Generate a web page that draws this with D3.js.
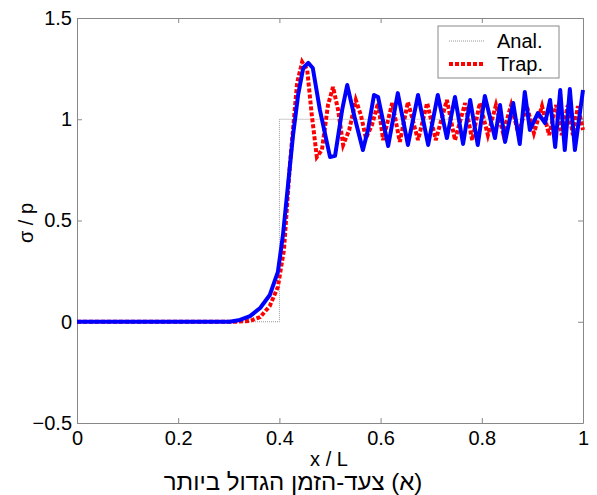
<!DOCTYPE html>
<html>
<head>
<meta charset="utf-8">
<script src="https://cdn.jsdelivr.net/npm/d3@7"></script>
<style>
    body { margin: 0; background: #fff; }
    .axis path, .axis line { stroke: #888; }
    .axis text { font-family: "Liberation Sans", Arial, sans-serif; font-size: 20px; fill: #000; }
</style>
</head>
<body>
<script>
//analytic step solution
var analX = [0, 0.4, 0.4, 1];
var analY = [0, 0, 1, 1];

//trapezoidal rule (red dashed)
var trapX = [0, 0.316, 0.342, 0.362, 0.381, 0.397, 0.409, 0.421, 0.435, 0.445, 0.455, 0.464, 0.474, 0.484, 0.496, 0.506,
    0.516, 0.526, 0.538, 0.551, 0.561, 0.571, 0.583, 0.595, 0.605, 0.623, 0.638, 0.654, 0.674, 0.692, 0.709, 0.731,
    0.747, 0.767, 0.781, 0.796, 0.812, 0.828, 0.842, 0.858, 0.872, 0.889, 0.903, 0.919, 0.933, 0.947, 0.958, 0.970,
    0.980, 0.990, 1.0];
var trapY = [0, 0, 0.004, 0.023, 0.078, 0.172, 0.355, 0.784, 1.179, 1.283, 1.243, 1.021, 0.814, 0.848, 1.07, 1.159,
    1.046, 0.873, 0.947, 1.095, 1.021, 0.907, 0.972, 1.08, 0.897, 1.08, 0.888, 1.085, 0.897, 1.08, 0.897, 1.095,
    0.897, 1.08, 0.897, 1.08, 0.922, 1.07, 0.932, 1.07, 0.932, 1.065, 0.932, 1.065, 0.922, 1.07, 0.922, 1.07,
    0.922, 1.065, 0.947];

//second scheme (blue solid)
var blueX = [0, 0.302, 0.322, 0.342, 0.362, 0.381, 0.397, 0.407, 0.417, 0.427, 0.437, 0.447, 0.457, 0.466, 0.480,
    0.500, 0.510, 0.524, 0.534, 0.549, 0.565, 0.575, 0.587, 0.595, 0.615, 0.634, 0.654, 0.674, 0.694, 0.713, 0.731,
    0.747, 0.763, 0.777, 0.792, 0.806, 0.826, 0.836, 0.846, 0.862, 0.875, 0.885, 0.895, 0.911, 0.925, 0.935, 0.945,
    0.955, 0.964, 0.974, 0.984, 1.0];
var blueY = [0, 0, 0.009, 0.028, 0.068, 0.132, 0.246, 0.428, 0.675, 0.922, 1.12, 1.253, 1.278, 1.253, 1.046,
    0.814, 0.819, 1.046, 1.169, 1.006, 0.848, 0.947, 1.12, 1.11, 0.868, 1.129, 0.873, 1.12, 0.873, 1.12, 0.907,
    1.11, 0.878, 1.095, 0.873, 1.115, 0.907, 1.07, 0.888, 1.08, 0.878, 1.135, 0.947, 1.031, 0.981, 1.095, 0.863,
    1.144, 0.848, 1.149, 0.848, 1.144];

var xTicks = [0, 0.2, 0.4, 0.6, 0.8, 1];
var yTicks = [-0.5, 0, 0.5, 1, 1.5];
var legendNames = ["Anal.", "Trap."];

var width = 597,
    height = 495;
var margin = {left: 77, right: 14, top: 18, bottom: 72};
var font = "Liberation Sans, Arial, sans-serif";

var svg = d3.select("body")
    .append("svg")
    .attr("width", width)
    .attr("height", height);

var x = d3.scaleLinear().domain([0, 1]).range([margin.left, width - margin.right]);
var y = d3.scaleLinear().domain([-0.5, 1.5]).range([height - margin.bottom, margin.top]);

function fmt(d) { return d3.format("")(d); }

//axes with ticks pointing inwards
svg.append("g").attr("class", "axis")
    .attr("transform", "translate(0," + y(-0.5) + ")")
    .call(d3.axisBottom(x).tickValues(xTicks).tickFormat(fmt).tickSizeInner(-5).tickSizeOuter(0).tickPadding(8));
svg.append("g").attr("class", "axis")
    .attr("transform", "translate(0," + y(1.5) + ")")
    .call(d3.axisTop(x).tickValues(xTicks).tickFormat("").tickSizeInner(-5).tickSizeOuter(0));
svg.append("g").attr("class", "axis")
    .attr("transform", "translate(" + x(0) + ",0)")
    .call(d3.axisLeft(y).tickValues(yTicks).tickFormat(fmt).tickSizeInner(-5).tickSizeOuter(0).tickPadding(5));
svg.append("g").attr("class", "axis")
    .attr("transform", "translate(" + x(1) + ",0)")
    .call(d3.axisRight(y).tickValues(yTicks).tickFormat("").tickSizeInner(-5).tickSizeOuter(0));

var line = d3.line()
    .x(function(d){ return x(d[0]); })
    .y(function(d){ return y(d[1]); });

svg.append("path")
    .datum(d3.zip(analX, analY))
    .attr("d", line)
    .attr("fill", "none")
    .attr("stroke", "#999")
    .attr("stroke-width", 1)
    .attr("stroke-dasharray", "1,1");

svg.append("path")
    .datum(d3.zip(trapX, trapY))
    .attr("d", line)
    .attr("fill", "none")
    .attr("stroke", "#f00")
    .attr("stroke-width", 4)
    .attr("stroke-dasharray", "4,2");

svg.append("path")
    .datum(d3.zip(blueX, blueY))
    .attr("d", line)
    .attr("fill", "none")
    .attr("stroke", "#00f")
    .attr("stroke-width", 4)
    .attr("stroke-linejoin", "round");

//axis labels
svg.append("text")
    .attr("x", 329).attr("y", 466)
    .attr("text-anchor", "middle")
    .style("font-family", font)
    .style("font-size", "20px")
    .text("x / L");

svg.append("text")
    .attr("transform", "translate(33,223) rotate(-90)")
    .attr("text-anchor", "middle")
    .style("font-family", font)
    .style("font-size", "20px")
    .text("σ / p");

svg.append("text")
    .attr("x", 293).attr("y", 490)
    .attr("text-anchor", "middle")
    .attr("direction", "rtl")
    .style("font-family", font)
    .style("font-size", "24px")
    .text("(א) צעד-הזמן הגדול ביותר");

//legend
var legend = svg.append("g").attr("class", "legend");
legend.append("rect")
    .attr("x", 438).attr("y", 26)
    .attr("width", 121).attr("height", 52)
    .attr("fill", "#fff")
    .attr("stroke", "#888");

var legendStyles = [
    {stroke: "#999", width: 1, dash: "1,1"},
    {stroke: "#f00", width: 4, dash: "4,2"}
];
legendNames.forEach(function(name, i){
    var ly = 41 + i * 23;
    legend.append("line")
        .attr("x1", 449).attr("x2", 485)
        .attr("y1", ly).attr("y2", ly)
        .attr("stroke", legendStyles[i].stroke)
        .attr("stroke-width", legendStyles[i].width)
        .attr("stroke-dasharray", legendStyles[i].dash);
    legend.append("text")
        .attr("x", 497).attr("y", ly + 7)
        .style("font-family", font)
        .style("font-size", "20px")
        .text(name);
});
</script>
</body>
</html>
